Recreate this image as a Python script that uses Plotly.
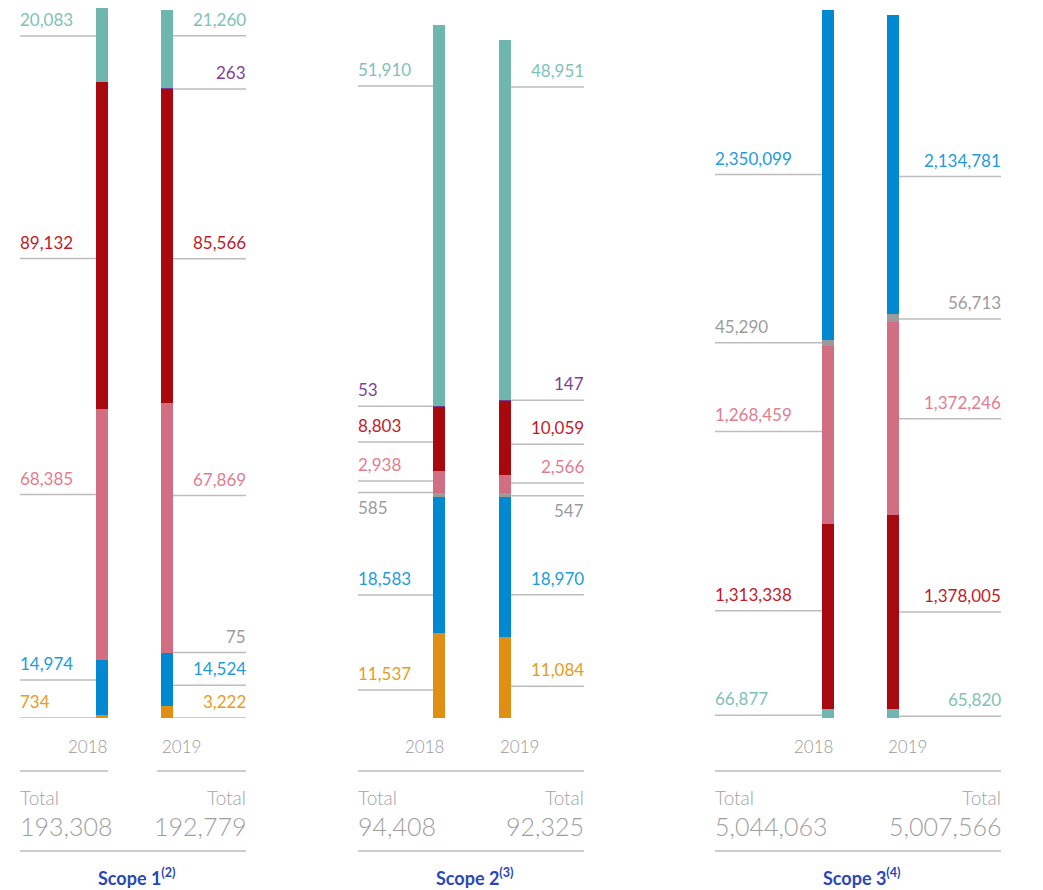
import plotly.graph_objects as go

# ---------------- DATA ----------------
YEARS = ["2018", "2019"]

# Scope 1 and Scope 2 stacking order (bottom -> top)
SERIES_S12 = ["orange", "blue", "gray", "pink", "red", "purple", "teal"]
SCOPE1_2018 = [734, 14974, None, 68385, 89132, None, 20083]
SCOPE1_2019 = [3222, 14524, 75, 67869, 85566, 263, 21260]
SCOPE2_2018 = [11537, 18583, 585, 2938, 8803, 53, 51910]
SCOPE2_2019 = [11084, 18970, 547, 2566, 10059, 147, 48951]

# Scope 3 stacking order (bottom -> top)
SERIES_S3 = ["teal", "red", "pink", "gray", "blue"]
SCOPE3_2018 = [66877, 1313338, 1268459, 45290, 2350099]
SCOPE3_2019 = [65820, 1378005, 1372246, 56713, 2134781]

TOTALS_2018 = [193308, 94408, 5044063]
TOTALS_2019 = [192779, 92325, 5007566]
SCOPE_TITLES = ["Scope 1", "Scope 2", "Scope 3"]
SCOPE_NOTES = ["(2)", "(3)", "(4)"]
TOTAL_WORD = "Total"

# ---------------- STYLE / LAYOUT ----------------
PAGE_OFFSET = 8                  # default body margin of the html page
W, H = 1043 - PAGE_OFFSET, 890 - PAGE_OFFSET
FONT = "Lato"
BAR_COLORS = {
    "teal": "#6fb7ae", "red": "#a8090f", "pink": "#d26e82", "blue": "#0088d1",
    "orange": "#de8f14", "gray": "#9b9b9b", "purple": "#7b3b8f",
}
LABEL_COLORS = {
    "teal": "#80c2b8", "red": "#c01c27", "pink": "#e27d8e", "blue": "#229cd9",
    "orange": "#e89c24", "gray": "#9c9c9c", "purple": "#7e4295",
}
RULE_COLOR = "#bdbdbd"
TEXT_GRAY = "#a3a3a3"
TITLE_COLOR = "#2a48b8"
LIGHT, REGULAR = 300, 400

BOTTOM_PX = 718
BAR_PX = 12
PANELS = [
    dict(series=SERIES_S12, v18=SCOPE1_2018, v19=SCOPE1_2019, left=20, right=246,
         c18=102, c19=167, top18=8, split_rule=True,
         f18=[0.0, 0.64, None, 0.66, 0.46, None, 0.62],
         f19=[0.0, 0.39, 1.0, 0.63, 0.46, 0.0, 0.67],
         below18=[], below19=[]),
    dict(series=SERIES_S12, v18=SCOPE2_2018, v19=SCOPE2_2019, left=358, right=584,
         c18=439, c19=505, top18=25, split_rule=False,
         f18=[0.33, 0.28, 1.0, 0.54, 0.45, 0.5, 0.84],
         f19=[0.39, 0.30, 0.4, 0.55, 0.41, 0.5, 0.87],
         below18=["gray"], below19=["gray"]),
    dict(series=SERIES_S3, v18=SCOPE3_2018, v19=SCOPE3_2019, left=715, right=1001,
         c18=828, c19=893, top18=9.5, split_rule=False,
         f18=[0.3, 0.53, 0.52, 0.5, 0.5],
         f19=[0.2, 0.5, 0.5, 0.43, 0.46],
         below18=[], below19=[]),
]


def px_x(px):
    return (px - PAGE_OFFSET) / W


def py(px):
    return 1 - (px - PAGE_OFFSET) / H


fig = go.Figure()
shapes, annotations = [], []
layout = {}

for p, P in enumerate(PANELS):
    n = "" if p == 0 else str(p + 1)
    xa, ya = "x" + n, "y" + n
    unit = P["c19"] - P["c18"]                      # pixels per category step
    xmin = -(P["c18"] - P["left"]) / unit
    xmax = 1 + (P["right"] - P["c19"]) / unit
    bw = BAR_PX / unit
    stack18 = sum(v or 0 for v in P["v18"])
    ymax = stack18 * (BOTTOM_PX - PAGE_OFFSET) / (BOTTOM_PX - P["top18"])

    layout["xaxis" + n] = dict(domain=[px_x(P["left"]), px_x(P["right"])], range=[xmin, xmax],
                               type="category", categoryorder="array", categoryarray=YEARS,
                               visible=False, fixedrange=True, anchor=ya)
    layout["yaxis" + n] = dict(domain=[py(BOTTOM_PX), 1], range=[0, ymax], visible=False,
                               fixedrange=True, anchor=xa)

    for i, s in enumerate(P["series"]):
        fig.add_trace(go.Bar(x=YEARS, y=[P["v18"][i], P["v19"][i]], width=bw,
                             marker=dict(color=BAR_COLORS[s], line=dict(width=0)),
                             xaxis=xa, yaxis=ya, showlegend=False, hoverinfo="skip", name=s,
                             cliponaxis=False))

    # leader lines + value labels
    for yr, vals, fr, below in ((0, P["v18"], P["f18"], P["below18"]),
                                (1, P["v19"], P["f19"], P["below19"])):
        base = 0
        for i, s in enumerate(P["series"]):
            v = vals[i]
            if not v:
                continue
            ly = base + fr[i] * v
            base += v
            if yr == 0:
                x0, x1, ax, anc, xs = xmin, -bw / 2, xmin, "left", -2
            else:
                x0, x1, ax, anc, xs = 1 + bw / 2, xmax, xmax, "right", 2
            shapes.append(dict(type="line", xref=xa, yref=ya, x0=x0, x1=x1, y0=ly, y1=ly,
                               line=dict(color=RULE_COLOR, width=1.5), layer="below"))
            is_below = s in below
            annotations.append(dict(xref=xa, yref=ya, x=ax, y=ly, text=f"{v:,}",
                                    xanchor=anc, yanchor="top" if is_below else "bottom",
                                    xshift=xs, yshift=-2 if is_below else 4, showarrow=False,
                                    font=dict(family=FONT, size=17, weight=REGULAR,
                                              color=LABEL_COLORS[s])))

    # year labels
    annotations.append(dict(xref=xa, yref="paper", x=bw / 2, y=py(746), text=YEARS[0],
                            xanchor="right", yanchor="middle", showarrow=False, xshift=1,
                            font=dict(family=FONT, size=17, weight=LIGHT, color="#9a9a9a")))
    annotations.append(dict(xref=xa, yref="paper", x=1 - bw / 2, y=py(746), text=YEARS[1],
                            xanchor="left", yanchor="middle", showarrow=False, xshift=-1,
                            font=dict(family=FONT, size=17, weight=LIGHT, color="#9a9a9a")))
    # rule under years
    if P["split_rule"]:
        shapes.append(dict(type="line", xref=xa, yref="paper", x0=xmin, x1=bw / 2,
                           y0=py(771), y1=py(771), line=dict(color=RULE_COLOR, width=1.5)))
        shapes.append(dict(type="line", xref=xa, yref="paper", x0=1 - bw / 2 - 4 / unit, x1=xmax,
                           y0=py(771), y1=py(771), line=dict(color=RULE_COLOR, width=1.5)))
    else:
        shapes.append(dict(type="line", xref=xa, yref="paper", x0=xmin, x1=xmax,
                           y0=py(771), y1=py(771), line=dict(color=RULE_COLOR, width=1.5)))
    # totals
    for ax, anc, tot, xs in ((xmin, "left", TOTALS_2018[p], -2), (xmax, "right", TOTALS_2019[p], 2)):
        annotations.append(dict(xref=xa, yref="paper", x=ax, y=py(797), text=TOTAL_WORD,
                                xanchor=anc, yanchor="middle", showarrow=False, xshift=xs,
                                font=dict(family=FONT, size=19, weight=LIGHT, color=TEXT_GRAY)))
        annotations.append(dict(xref=xa, yref="paper", x=ax, y=py(826), text=f"{tot:,}",
                                xanchor=anc, yanchor="middle", showarrow=False, xshift=xs,
                                font=dict(family=FONT, size=25, weight=LIGHT, color="#9e9e9e")))
    shapes.append(dict(type="line", xref=xa, yref="paper", x0=xmin, x1=xmax,
                       y0=py(851), y1=py(851), line=dict(color=RULE_COLOR, width=1.5)))
    # scope title
    annotations.append(dict(xref="paper", yref="paper", x=px_x((P["left"] + P["right"]) / 2 + 4),
                            y=py(877), text=f"<b>{SCOPE_TITLES[p]}<sup>{SCOPE_NOTES[p]}</sup></b>",
                            xanchor="center", yanchor="middle", showarrow=False,
                            font=dict(family=FONT, size=18, color=TITLE_COLOR)))

fig.update_layout(
    width=W, height=H, margin=dict(l=0, r=0, t=0, b=0),
    paper_bgcolor="white", plot_bgcolor="white", barmode="stack", bargap=0,
    shapes=shapes, annotations=annotations, showlegend=False,
    font=dict(family=FONT), **layout,
)

fig.write_html("out.html")
